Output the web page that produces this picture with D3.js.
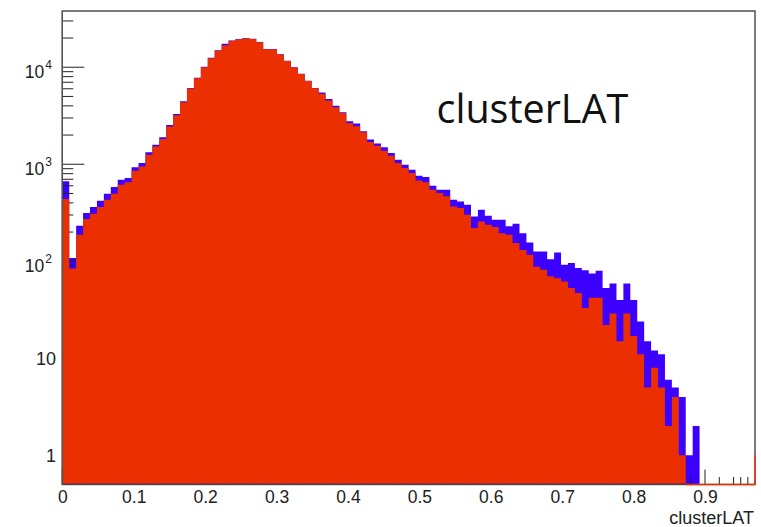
<!DOCTYPE html>
<html><head><meta charset="utf-8">
<script src="https://cdn.jsdelivr.net/npm/d3@7"></script>
<style>body{margin:0;background:#fff;} svg{display:block;}</style>
</head><body><svg id="c" width="761" height="527"></svg>
<script>
// ---- data ----
const xRange = [0, 0.97];
const nBins = 100;
const blueCounts = [
 667,108,232,314,362,421,497,583,694,722,
 930,1031,1333,1593,1904,2545,3306,4458,6124,7776,
 10090,12500,14930,17490,18870,19550,20000,19640,18200,15410,
 15410,13590,11640,10000,8550,7260,6124,5480,4720,4000,
 3436,2773,2625,2186,1795,1633,1494,1309,1115,991,
 879,763,739,601,547,547,431,414,383,290,
 340,295,268,268,229,244,195,156,126,126,
 105,123,92,96,85,81,75,80,53,59,
 40,59,40,24,15,12,11,6,5,4,
 1,2,0,0,0,0,0,0,0,0];
const redCounts = [
 438,84,188,273,309,362,431,497,616,651,
 859,951,1256,1520,1816,2445,3198,4345,6026,7700,
 10000,12400,14850,16880,18770,19450,19900,19550,18100,15350,
 15350,13500,11580,9950,8500,7200,6060,5330,4550,3866,
 3383,2669,2461,2134,1699,1556,1381,1227,1031,916,
 813,682,651,547,506,467,368,354,302,220,
 257,238,225,195,188,154,131,117,88,82,
 70,67,62,53,47,33,42,42,22,29,
 15,29,17,11,5,8,5,2,4,1,
 0,0,0,0,0,0,0,0,0,0];
const xTickValues = [0,0.1,0.2,0.3,0.4,0.5,0.6,0.7,0.8,0.9];
const yDecades = [1,10,100,1000,10000];
const yLabelText = ["1","10","10","10","10"];
const yLabelExp = ["","","2","3","4"];
const yDomain = [0.5, 38000];
const redEdgeValue = 1;
const titleText = "clusterLAT";
const xTitleText = "clusterLAT";

// ---- layout ----
const L = 62.3, R = 755, T = 11, B = 484.5;
const svg = d3.select("#c");
svg.append("rect").attr("width",761).attr("height",527).attr("fill","#fff");

const x = d3.scaleLinear().domain(xRange).range([L, R]);
const y = d3.scaleLog().domain(yDomain).range([B, T]);
const bw = (xRange[1]-xRange[0])/nBins;
const fontAx = "'Liberation Sans', Arial, Helvetica, sans-serif";

function stepData(counts){
  const pts = counts.map((c,i)=>({x0:xRange[0]+i*bw, v:c}));
  pts.push({x0:xRange[1], v:counts[counts.length-1]});
  return pts;
}
const area = (base) => d3.area()
  .x(d=>x(d.x0))
  .y0(base)
  .y1(d=>d.v>0 ? Math.min(y(d.v), base) : base)
  .curve(d3.curveStepAfter);

const blueCol = "#3c00ff", redCol = "#ec2f00";

// blue histogram
svg.append("path").datum(stepData(blueCounts))
  .attr("d", area(B)).attr("fill", blueCol);

// ticks (drawn over blue, under red)
const tickG = svg.append("g").attr("stroke","#222").attr("stroke-width",1);
const yMinor = [];
for (let e=-1;e<=4;e++){ for (let m=1;m<=9;m++){ const v=m*Math.pow(10,e); if(v>=yDomain[0]&&v<=yDomain[1]) yMinor.push(v);} }
yMinor.forEach(v=>{
  const major = yDecades.includes(v);
  tickG.append("line").attr("x1",L).attr("x2",L+(major?22:11))
    .attr("y1",y(v)).attr("y2",y(v));
});
const xMinor = d3.range(0, 0.9701, 0.02);
xMinor.forEach(v=>{
  const major = Math.abs(v*10 - Math.round(v*10))<1e-6;
  tickG.append("line").attr("x1",x(v)).attr("x2",x(v))
    .attr("y1",B).attr("y2",B-(major?15:7.5));
});
d3.range(0.05,0.97,0.1).forEach(v=>{
  tickG.append("line").attr("x1",x(v)).attr("x2",x(v)).attr("y1",B).attr("y2",B-7.5);
});

// red histogram
svg.append("path").datum(stepData(redCounts))
  .attr("d", area(B-0.8)).attr("fill", redCol);

// frame
svg.append("rect").attr("x",L).attr("y",T).attr("width",R-L).attr("height",B-T)
  .attr("fill","none").attr("stroke","#444").attr("stroke-width",1.4);
svg.append("line").attr("x1",L).attr("x2",L).attr("y1",T).attr("y2",B).attr("stroke","#555").attr("stroke-width",1.2);

// red outline along bottom where red is empty, plus right edge
let lastRed = 0; redCounts.forEach((c,i)=>{ if(c>0) lastRed=i; });
svg.append("path")
  .attr("d", `M${x(xRange[0]+(lastRed+1)*bw)},${B} L${x(xRange[1])},${B} L${x(xRange[1])},${y(redEdgeValue)}`)
  .attr("fill","none").attr("stroke",redCol).attr("stroke-width",1.4);

// x axis labels via d3 axis
const xAxis = d3.axisBottom(x).tickValues(xTickValues).tickSize(0).tickPadding(0)
  .tickFormat(d=>d===0?"0":d3.format(".1f")(d));
const xg = svg.append("g").attr("transform",`translate(0,${B+3})`).call(xAxis);
xg.select(".domain").remove();
xg.selectAll("text").attr("font-family",fontAx).attr("font-size",17.5).attr("fill","#222").attr("dy","0.9em");

// y labels
yDecades.forEach((v,i)=>{
  const t = svg.append("text").attr("font-family",fontAx).attr("fill","#222");
  if (yLabelExp[i]===""){
    t.attr("x",56).attr("y",y(v)).attr("dy","0.36em").attr("text-anchor","end").attr("font-size",18).text(yLabelText[i]);
  } else {
    t.attr("x",52).attr("y",y(v)+10.9).attr("text-anchor","end").attr("font-size",17.5);
    t.append("tspan").text(yLabelText[i]);
    t.append("tspan").attr("font-size",12).attr("dy",-9.5).attr("dx",1).text(yLabelExp[i]);
  }
});

// axis title
svg.append("text").attr("x",754).attr("y",524).attr("text-anchor","end")
  .attr("font-family",fontAx).attr("font-size",18).attr("fill","#222").text(xTitleText);

// big label
svg.append("text").attr("x",436.5).attr("y",122.7)
  .attr("font-family","'Open Sans', 'Noto Sans', sans-serif").attr("font-size",39.5).attr("fill","#111").text(titleText);
</script>
</body></html>
